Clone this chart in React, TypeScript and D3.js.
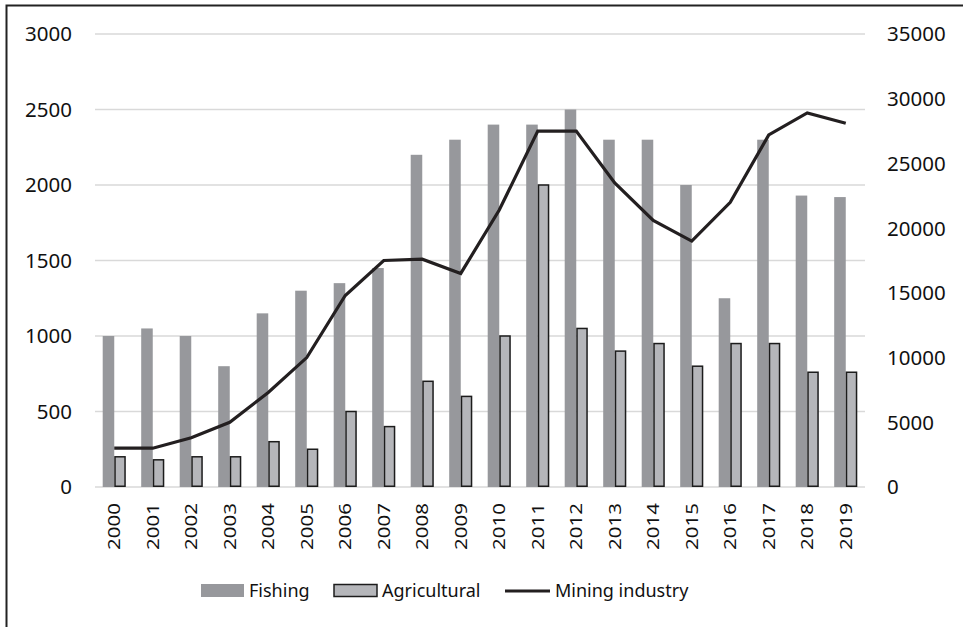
import React from 'react'
import * as d3 from 'd3'

const years = ['2000', '2001', '2002', '2003', '2004', '2005', '2006', '2007', '2008', '2009',
  '2010', '2011', '2012', '2013', '2014', '2015', '2016', '2017', '2018', '2019']
const fishing = [1000, 1050, 1000, 800, 1150, 1300, 1350, 1450, 2200, 2300,
  2400, 2400, 2500, 2300, 2300, 2000, 1250, 2300, 1930, 1920]
const agricultural = [200, 180, 200, 200, 300, 250, 500, 400, 700, 600,
  1000, 2000, 1050, 900, 950, 800, 950, 950, 760, 760]
const mining = [3000, 3000, 3800, 5000, 7300, 10000, 14800, 17500, 17600, 16500,
  21400, 27500, 27500, 23500, 20600, 19000, 22000, 27200, 28900, 28100]
const leftTicks = [0, 500, 1000, 1500, 2000, 2500, 3000]
const rightTicks = [0, 5000, 10000, 15000, 20000, 25000, 30000, 35000]
const seriesNames = ['Fishing', 'Agricultural', 'Mining industry']

const W = 963
const H = 627
const left = 95
const right = 865
const top = 34
const bottom = 487
const font = '"Noto Sans", "Open Sans", sans-serif'

export default function App () {
  const x = d3.scaleBand().domain(years).range([left, right]).paddingInner(0.4).paddingOuter(0.2)
  const sub = d3.scaleBand().domain(['f', 'a']).range([0, x.bandwidth()])
  const yL = d3.scaleLinear().domain([0, 3000]).range([bottom, top])
  const yR = d3.scaleLinear().domain([0, 35000]).range([bottom, top])
  const line = d3.line<number>()
    .x((d, i) => (x(years[i]) as number) + x.bandwidth() / 2)
    .y(d => yR(d))

  return (
    <svg width={W} height={H} style={{ position: 'absolute', left: 0, top: 0, background: '#fff' }}>
      <rect x={0} y={0} width={W} height={H} fill='#fff' />
      <path d={`M6.5,${H} V5.5 H${W}`} fill='none' stroke='#222' strokeWidth={2} />
      <g>
        {leftTicks.map(v => (
          <line key={v} x1={left} x2={right} y1={yL(v)} y2={yL(v)} stroke='#d9d9d9' strokeWidth={1.5} />
        ))}
      </g>
      <g>
        {years.map((yr, i) => (
          <g key={yr} transform={`translate(${x(yr)},0)`}>
            <rect x={sub('f')} y={yL(fishing[i])} width={sub.bandwidth()} height={bottom - yL(fishing[i])} fill='#97989c' />
            <rect x={(sub('a') as number) + 0.75} y={yL(agricultural[i])} width={sub.bandwidth() - 1.5}
              height={bottom - yL(agricultural[i]) - 0.75} fill='#b5b6ba' stroke='#1c1c1c' strokeWidth={1.5} />
          </g>
        ))}
      </g>
      <path d={line(mining) as string} fill='none' stroke='#231f20' strokeWidth={3.2} strokeLinejoin='miter' />
      <g fontFamily={font} fontSize={20.5} fill='#111'>
        {leftTicks.map(v => (
          <text key={v} x={72} y={yL(v)} dy='0.36em' textAnchor='end'>{v}</text>
        ))}
        {rightTicks.map(v => (
          <text key={v} x={887} y={yR(v)} dy='0.36em' textAnchor='start'>{v}</text>
        ))}
        {years.map(yr => (
          <text key={yr} transform={`translate(${(x(yr) as number) + x.bandwidth() / 2},503) rotate(-90) scale(1,0.82)`}
            dy='0.36em' textAnchor='end'>{yr}</text>
        ))}
      </g>
      <g fontFamily={font} fontSize={18} fill='#111'>
        <rect x={201} y={584} width={43} height={13} fill='#97989c' />
        <text x={249} y={597}>{seriesNames[0]}</text>
        <rect x={334} y={584.5} width={43} height={12} fill='#b5b6ba' stroke='#1c1c1c' strokeWidth={1.5} />
        <text x={382} y={597}>{seriesNames[1]}</text>
        <line x1={505} x2={550} y1={591} y2={591} stroke='#231f20' strokeWidth={3.2} />
        <text x={555} y={597}>{seriesNames[2]}</text>
      </g>
    </svg>
  )
}
